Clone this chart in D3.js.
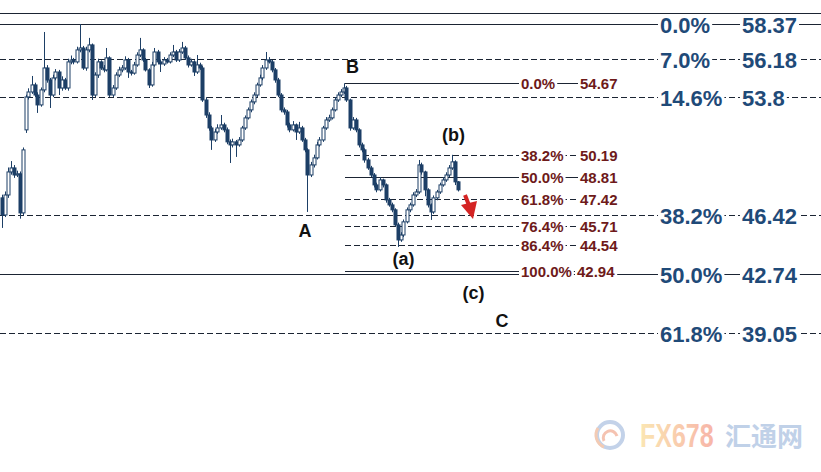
<!DOCTYPE html>
<html><head><meta charset="utf-8">
<script src="https://cdn.jsdelivr.net/npm/d3@7"></script>
<style>html,body{margin:0;padding:0;background:#fff;}svg{display:block;}</style>
</head><body>
<svg id="chart" width="821" height="472"></svg>
<script>
// ---- candle data (price) ----
const opens = [47.50,46.43,47.68,49.12,49.37,48.93,49.00,46.56,51.75,53.81,54.12,54.56,53.93,53.31,54.25,55.62,54.87,53.93,55.00,55.37,54.37,54.87,54.37,56.00,56.12,56.00,56.75,56.87,55.62,56.75,57.06,53.93,55.18,56.00,55.62,55.50,56.25,53.93,54.37,55.18,55.50,55.62,56.12,55.37,55.30,55.81,56.43,56.75,56.12,55.50,54.56,55.81,56.62,56.00,55.87,56.12,56.00,56.43,56.62,56.12,56.62,56.87,56.25,55.81,56.00,55.37,55.81,55.62,53.62,52.68,51.87,51.12,51.62,51.87,52.06,51.75,51.00,50.81,51.00,50.81,51.12,51.87,52.50,53.00,53.50,53.93,54.56,55.00,55.62,56.12,56.00,55.50,54.87,53.93,53.00,52.87,52.06,51.75,52.06,51.62,51.87,51.12,50.50,48.93,49.56,50.00,50.81,51.12,51.87,52.37,52.50,53.00,53.62,53.93,54.12,54.37,53.62,51.87,52.37,51.75,50.81,50.50,49.87,49.37,48.93,48.31,48.00,48.62,48.31,47.37,47.06,46.75,45.81,44.87,45.18,46.00,46.75,47.06,47.68,47.87,49.56,49.12,48.00,47.06,46.62,47.50,47.87,48.31,48.62,48.93,49.37,49.75,48.50];
const highs = [47.70,47.90,49.40,49.80,49.55,49.20,49.15,50.65,53.95,54.35,55.12,54.70,54.10,54.40,57.87,55.80,55.00,55.20,55.55,55.50,55.10,55.00,56.20,56.40,56.25,56.95,58.37,57.00,56.95,57.50,57.15,55.35,56.20,56.10,55.80,56.87,56.35,54.55,55.35,55.70,55.80,56.35,56.25,55.50,56.00,56.60,57.50,56.85,56.25,55.60,56.00,56.87,56.75,56.15,56.30,56.25,56.60,57.06,56.75,56.80,57.25,57.00,56.40,56.20,56.10,56.43,55.95,55.75,53.80,52.85,52.00,51.80,52.10,52.68,52.20,51.90,51.15,51.20,51.12,51.30,52.00,52.65,53.15,53.65,54.10,54.70,55.20,55.80,56.62,56.30,56.12,55.62,55.00,54.05,53.15,53.00,52.20,52.30,52.15,52.25,52.00,51.25,50.60,49.75,50.20,51.00,51.30,52.00,52.55,52.70,53.15,53.80,54.10,54.30,54.67,54.50,53.70,52.55,52.50,51.85,50.95,50.60,50.00,49.50,49.05,48.45,48.80,48.70,48.40,47.50,47.20,46.85,45.95,45.35,46.15,46.90,47.20,47.85,48.05,49.87,49.70,49.20,48.10,47.15,47.65,48.00,48.45,48.80,49.10,49.55,50.19,49.85,48.55];
const lows = [45.62,46.30,47.50,48.95,48.75,48.80,46.20,46.40,51.56,53.65,54.00,53.80,52.81,53.20,54.10,54.70,53.12,53.80,54.85,53.93,54.20,54.25,54.20,55.85,55.85,55.90,56.60,55.50,55.45,56.60,53.62,53.80,55.00,55.50,55.35,55.40,53.81,53.80,54.25,55.05,55.35,55.50,55.00,55.15,55.20,55.70,56.30,56.00,55.40,54.37,54.45,55.70,55.85,55.37,55.75,55.90,55.90,56.30,56.00,56.00,56.50,56.12,55.65,55.70,55.12,55.25,55.50,53.50,52.50,51.70,50.50,51.00,51.50,51.75,51.60,50.85,49.68,50.65,50.06,50.70,51.00,51.75,52.40,52.85,53.35,53.80,54.45,54.85,55.50,55.90,55.35,54.70,53.80,52.85,52.70,51.90,51.60,51.65,51.12,51.50,51.00,50.35,46.62,48.80,49.40,49.90,50.70,51.00,51.75,52.25,52.40,52.90,53.50,53.80,54.00,53.50,51.70,51.75,51.60,50.65,50.35,49.70,49.25,48.80,48.15,47.85,47.90,48.15,47.20,46.95,46.60,45.70,44.43,44.75,45.05,45.90,46.60,46.95,47.55,47.75,48.95,47.60,46.90,46.12,46.50,47.35,47.75,48.20,48.50,48.80,49.25,48.30,47.90];
const closes = [46.43,47.68,49.12,49.37,48.93,49.00,46.56,50.50,53.81,54.12,54.56,53.93,53.31,54.25,55.62,54.87,53.93,55.00,55.37,54.37,54.87,54.37,56.00,56.12,56.00,56.75,56.87,55.62,56.75,57.06,53.93,55.18,56.00,55.62,55.50,56.25,53.93,54.37,55.18,55.50,55.62,56.12,55.37,55.30,55.81,56.43,56.75,56.12,55.50,54.56,55.81,56.62,56.00,55.87,56.12,56.00,56.43,56.62,56.12,56.62,56.87,56.25,55.81,56.00,55.37,55.81,55.62,53.62,52.68,51.87,51.12,51.62,51.87,52.06,51.75,51.00,50.81,51.00,50.81,51.12,51.87,52.50,53.00,53.50,53.93,54.56,55.00,55.62,56.12,56.00,55.50,54.87,53.93,53.00,52.87,52.06,51.75,52.06,51.62,51.87,51.12,50.50,48.93,49.56,50.00,50.81,51.12,51.87,52.37,52.50,53.00,53.62,53.93,54.12,54.37,53.62,51.87,52.37,51.75,50.81,50.50,49.87,49.37,48.93,48.31,48.00,48.62,48.31,47.37,47.06,46.75,45.81,44.87,45.18,46.00,46.75,47.06,47.68,47.87,49.56,49.12,48.00,47.06,46.62,47.50,47.87,48.31,48.62,48.93,49.37,49.75,48.50,48.00];

// ---- main Fibonacci levels ----
const mainPct   = ["0.0%","7.0%","14.6%","38.2%","50.0%","61.8%"];
const mainVal   = [58.37, 56.18, 53.8, 46.42, 42.74, 39.05];
const mainLabel = ["58.37","56.18","53.8","46.42","42.74","39.05"];
const mainDash  = [false, true, true, true, false, true];

// ---- sub Fibonacci levels (B -> (a)) ----
const subPct   = ["0.0%","38.2%","50.0%","61.8%","76.4%","86.4%","100.0%"];
const subVal   = [54.67, 50.19, 48.81, 47.42, 45.71, 44.54, 42.94];
const subLabel = ["54.67","50.19","48.81","47.42","45.71","44.54","42.94"];
const subDash  = [false, true, false, true, true, true, false];

// ---- wave labels ----
const waveText = ["A","B","(a)","(b)","(c)","C"];
const waveIdx  = [101.2, 117, 134, 150.7, 157.3, 166.8];
const waveVal  = [45.43, 55.68, 43.68, 51.40, 41.56, 39.81];

const svg = d3.select("#chart");
const N = closes.length;
const x = d3.scaleLinear().domain([0, N - 1]).range([1.5, 457.5]);
const y = d3.scaleLinear().domain([58.37, 42.74]).range([24, 274]);

const lineColor = "#1b2433";
const candleColor = "#1d3f66";
const blue = "#1f4a78";
const red = "#6e1a1a";
const font = "'Liberation Sans', Arial, sans-serif";

// top border
svg.append("line").attr("x1", 0).attr("x2", 821).attr("y1", 13.5).attr("y2", 13.5)
  .attr("stroke", lineColor).attr("stroke-width", 1.2);

// main fib lines
const gMain = svg.append("g");
mainVal.forEach((v, i) => {
  gMain.append("line").attr("x1", 0).attr("x2", 821)
    .attr("y1", Math.round(y(v)) + 0.5).attr("y2", Math.round(y(v)) + 0.5)
    .attr("stroke", lineColor).attr("stroke-width", 1)
    .attr("stroke-dasharray", mainDash[i] ? "6,3" : null);
});

// sub fib lines
const gSub = svg.append("g");
subVal.forEach((v, i) => {
  const yy = Math.round(y(v)) + 0.5;
  gSub.append("line").attr("x1", 345).attr("x2", 578)
    .attr("y1", yy).attr("y2", yy)
    .attr("stroke", lineColor).attr("stroke-width", 1)
    .attr("stroke-dasharray", subDash[i] ? "6,3" : null);
});

// candles
const gC = svg.append("g");
const idx = d3.range(N);
gC.selectAll("line.wick").data(idx).join("line").attr("class", "wick")
  .attr("x1", i => Math.round(x(i)) + 0.5).attr("x2", i => Math.round(x(i)) + 0.5)
  .attr("y1", i => y(highs[i])).attr("y2", i => y(lows[i]))
  .attr("stroke", candleColor).attr("stroke-width", 1);
gC.selectAll("rect.body").data(idx).join("rect").attr("class", "body")
  .attr("x", i => Math.round(x(i)) - 1)
  .attr("width", 3)
  .attr("y", i => y(Math.max(opens[i], closes[i])))
  .attr("height", i => Math.max(1, Math.abs(y(opens[i]) - y(closes[i]))))
  .attr("fill", i => closes[i] >= opens[i] ? "#ffffff" : candleColor)
  .attr("stroke", candleColor).attr("stroke-width", 1);

// text with white background helper
function label(g, tx, ty, txt, size, color) {
  const t = g.append("text").attr("x", tx).attr("y", ty)
    .attr("dominant-baseline", "central")
    .attr("font-family", font).attr("font-weight", "bold")
    .attr("font-size", size).attr("fill", color).text(txt);
  const b = t.node().getBBox();
  g.insert("rect", "text").attr("x", b.x - 2).attr("y", ty - size * 0.36)
    .attr("width", b.width + 4).attr("height", size * 0.72).attr("fill", "#fff");
  return t;
}

const gL = svg.append("g");
mainVal.forEach((v, i) => {
  const yy = y(v) + 1;
  label(gL, 660, yy, mainPct[i], 22, blue);
  label(gL, 742, yy, mainLabel[i], 22, blue);
});
subVal.forEach((v, i) => {
  const yy = y(v) + 0.5;
  label(gL, 521, yy, subPct[i], 15, red);
  label(gL, subPct[i].length > 5 ? 577 : 580, yy, subLabel[i], 15, red);
});

// wave labels
waveText.forEach((t, i) => {
  svg.append("text").attr("x", x(waveIdx[i])).attr("y", y(waveVal[i]))
    .attr("text-anchor", "middle").attr("dominant-baseline", "central")
    .attr("font-family", font).attr("font-weight", "bold").attr("font-size", 18)
    .attr("fill", "#111").text(t);
});

// red arrow
const arr = svg.append("g");
arr.append("path").attr("d", "M465,195 L470,208").attr("stroke", "#d42424")
  .attr("stroke-width", 4).attr("fill", "none");
arr.append("path").attr("d", "M461,205 L477,201 L473,219 Z").attr("fill", "#d42424");

// watermark
const defs = svg.append("defs");
const gr = defs.append("linearGradient").attr("id", "wmg").attr("x1", "0").attr("x2", "1");
gr.append("stop").attr("offset", "0").attr("stop-color", "#fbe2a6");
gr.append("stop").attr("offset", "1").attr("stop-color", "#f6a99a");
const wm = svg.append("g").attr("opacity", 0.85);
wm.append("circle").attr("cx", 610).attr("cy", 435).attr("r", 13)
  .attr("fill", "none").attr("stroke", "#b9cbe6").attr("stroke-width", 4);
wm.append("path").attr("d", "M604,441 A7,7 0 1,1 617,436").attr("fill", "none")
  .attr("stroke", "#f4b9a4").attr("stroke-width", 3);
wm.append("path").attr("d", "M598,428 A13,13 0 0,0 604,447").attr("fill", "none")
  .attr("stroke", "#f2c3a8").attr("stroke-width", 3);
wm.append("text").attr("transform", "translate(640,447) scale(1,1.3)").attr("font-family", font)
  .attr("font-weight", "bold").attr("font-size", 25)
  .attr("fill", "url(#wmg)").text("FX678");
wm.append("text").attr("x", 725).attr("y", 446).attr("font-family", "'Noto Sans CJK SC', sans-serif")
  .attr("font-weight", "bold").attr("font-size", 26)
  .attr("fill", "#b6c9e5").text("汇通网");
</script>
</body></html>
